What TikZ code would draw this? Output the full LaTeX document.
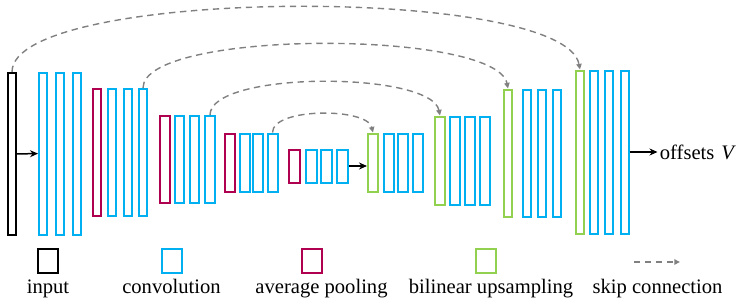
\documentclass[tikz,border=0pt]{standalone}
\usepackage{fontspec}
\setmainfont{Liberation Serif}
\usepackage{xcolor}
\usepackage{tikz}
\usetikzlibrary{arrows.meta, positioning, calc}

\definecolor{convblue}{RGB}{0,176,240}
\definecolor{poolred}{RGB}{176,0,80}
\definecolor{upgreen}{RGB}{146,208,80}
\definecolor{skipgray}{RGB}{128,128,128}

\begin{document}
\begin{tikzpicture}[
        x=0.5pt, y=0.5pt,
        font=\fontsize{10.3}{12}\selectfont,
        % Block styles
        layer/.style 2 args={minimum width=#1, minimum height=#2},
        inbox/.style={rectangle, draw=black, line width=1pt, inner sep=0pt},
        conv/.style={rectangle, draw=convblue, line width=1pt, inner sep=0pt},
        pool/.style={rectangle, draw=poolred, line width=1pt, inner sep=0pt},
        upsamp/.style={rectangle, draw=upgreen, line width=1pt, inner sep=0pt},
        arrow/.style={line width=0.75pt, -{Stealth[length=4pt, width=3.5pt]}},
        skip/.style={skipgray, line width=0.7pt, dash pattern=on 3.2pt off 2.3pt, -{Triangle[length=2.8pt, width=2.6pt]}},
        lbl/.style={anchor=base, inner sep=0pt}
    ]
    \useasboundingbox (0,0) rectangle (747,306);

    % --- 1. ENCODER ---
    \node[inbox, layer={4pt}{81pt}] (inp) at (12,152) {};
    \node[conv, layer={4pt}{81pt}] (c11) at (43,152.5) {};
    \node[conv, layer={4pt}{81pt}] (c12) at (59.5,152.5) {};
    \node[conv, layer={4pt}{81pt}] (c13) at (76.5,152.5) {};

    \node[pool, layer={4pt}{63.5pt}] (p1) at (97,153.5) {};
    \node[conv, layer={4pt}{63.5pt}] (c21) at (112,153.5) {};
    \node[conv, layer={4pt}{63.5pt}] (c22) at (128,153.5) {};
    \node[conv, layer={4pt}{63.5pt}] (c23) at (143,153.5) {};

    \node[pool, layer={4.75pt}{43.5pt}] (p2) at (165,146.5) {};
    \node[conv, layer={4.75pt}{43.5pt}] (c31) at (179.5,146.5) {};
    \node[conv, layer={4.75pt}{43.5pt}] (c32) at (194.5,146.5) {};
    \node[conv, layer={4.75pt}{43.5pt}] (c33) at (210,146.5) {};

    \node[pool, layer={5pt}{29pt}] (p3) at (229.5,143.5) {};
    \node[conv, layer={5pt}{29pt}] (c41) at (245,143.5) {};
    \node[conv, layer={5pt}{29pt}] (c42) at (257.5,143.5) {};
    \node[conv, layer={5pt}{29pt}] (c43) at (272.5,143.5) {};

    \node[pool, layer={5.5pt}{16.5pt}] (p4) at (294,140) {};
    \node[conv, layer={5.5pt}{16.5pt}] (c51) at (311,140) {};
    \node[conv, layer={5.5pt}{16.5pt}] (c52) at (326.5,140) {};
    \node[conv, layer={5.5pt}{16.5pt}] (c53) at (342,140) {};

    % --- 2. DECODER ---
    \node[upsamp, layer={5pt}{29pt}] (u1) at (373,143.5) {};
    \node[conv, layer={5pt}{29pt}] (c61) at (389,143.5) {};
    \node[conv, layer={5pt}{29pt}] (c62) at (402.5,143.5) {};
    \node[conv, layer={5pt}{29pt}] (c63) at (417.5,143.5) {};

    \node[upsamp, layer={5pt}{44pt}] (u2) at (440,145.5) {};
    \node[conv, layer={5pt}{44pt}] (c71) at (455,145.5) {};
    \node[conv, layer={5pt}{44pt}] (c72) at (470,145.5) {};
    \node[conv, layer={5pt}{44pt}] (c73) at (485,145.5) {};

    \node[upsamp, layer={4.25pt}{63.5pt}] (u3) at (508,153) {};
    \node[conv, layer={4.25pt}{63.5pt}] (c81) at (527,153) {};
    \node[conv, layer={4.25pt}{63.5pt}] (c82) at (542,153) {};
    \node[conv, layer={4.25pt}{63.5pt}] (c83) at (557,153) {};

    \node[upsamp, layer={4pt}{81.5pt}] (u4) at (580,154) {};
    \node[conv, layer={4pt}{81.5pt}] (c91) at (594,154) {};
    \node[conv, layer={4pt}{81.5pt}] (c92) at (609,154) {};
    \node[conv, layer={4pt}{81.5pt}] (c93) at (624.5,154) {};

    \node[right=14pt of c93, inner sep=1pt] (out) {offsets\,\,\textit{V}};

    % --- 3. ARROWS ---
    \draw[arrow] (inp) -- (c11);
    \draw[arrow] (c53) -- (c53 -| u1.west);
    \draw[arrow] (c93) -- (out);

    % --- 4. SKIP CONNECTIONS ---
    \draw[skip] (inp.north) .. controls +(0,85) and +(-16,85) .. (u4.north);
    \draw[skip] (c23.north) .. controls +(0,59) and +(-12,59) .. (u3.north);
    \draw[skip] (c33.north) .. controls +(0,44.5) and +(-9,44.5) .. (u2.north);
    \draw[skip] (c43.north) .. controls +(0,25) and +(-6,25) .. (u1.north);

    % --- 5. LEGEND ---
    \node[inbox, layer={10pt}{12pt}] (kinp) at (48,45) {};
    \node[conv, layer={10pt}{12pt}] (kconv) at (171.5,45) {};
    \node[pool, layer={10pt}{12pt}] (kpool) at (311.5,45) {};
    \node[upsamp, layer={10pt}{12pt}] (kup) at (486,45) {};
    \coordinate (ska) at (634,44);
    \coordinate (skb) at (680,44);
    \draw[skip] (ska) -- (skb);

    \node[lbl] (tinp) at (48,13) {input};
    \node[lbl] (tconv) at (171.5,13) {convolution};
    \node[lbl] (tpool) at (321.5,13) {average pooling};
    \node[lbl] (tup) at (491,13) {bilinear upsampling};
    \node[lbl] (tskip) at (657.5,13) {skip connection};

\end{tikzpicture}
\end{document}
